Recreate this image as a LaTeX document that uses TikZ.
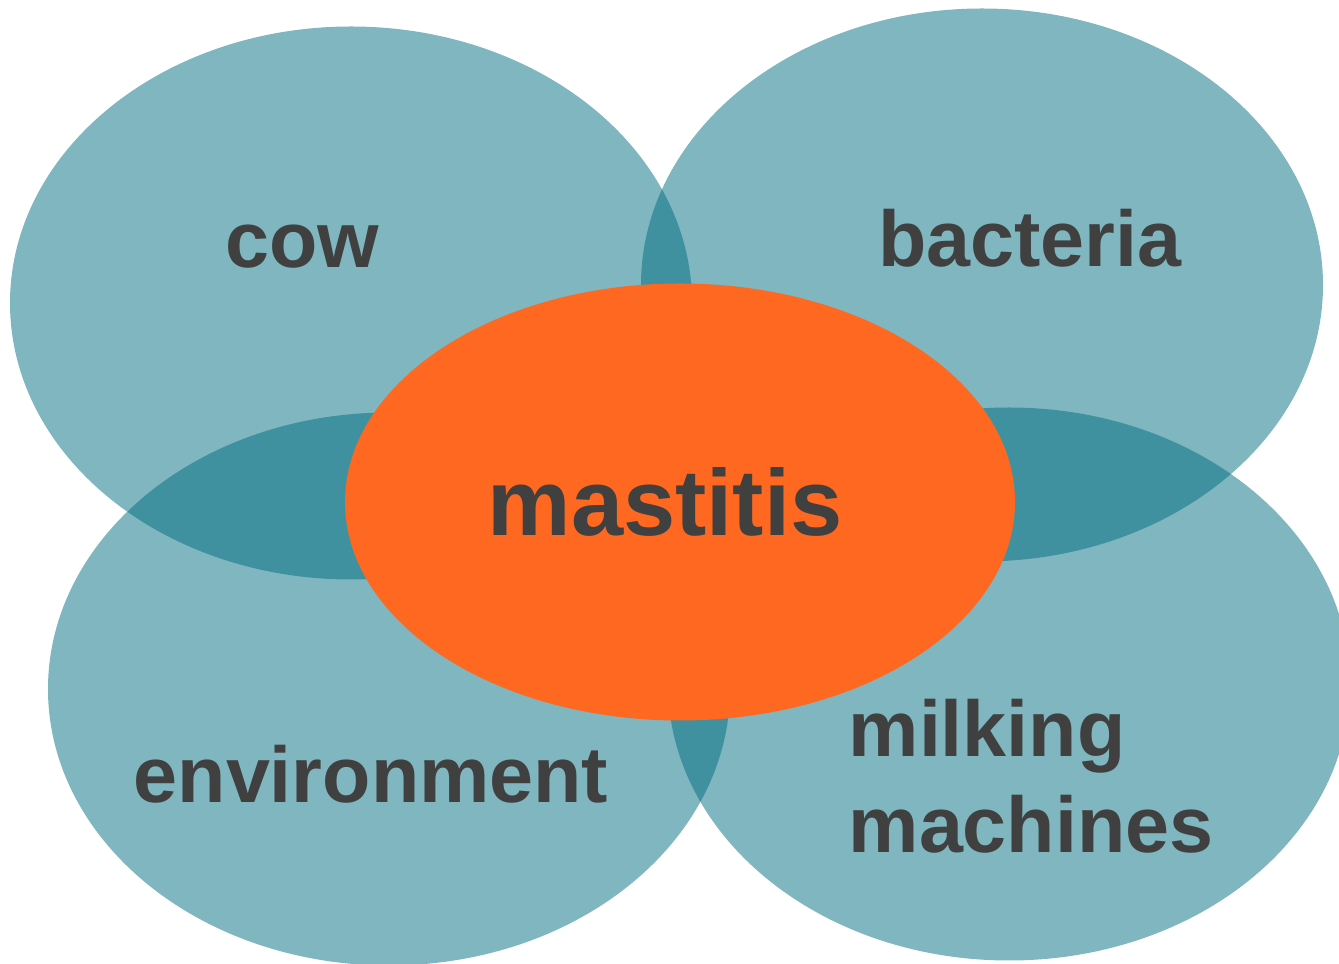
\documentclass[tikz,border=0pt]{standalone}
\usepackage{fontspec}
\setmainfont{Liberation Sans}
\usetikzlibrary{shapes.geometric,positioning}
\definecolor{factorteal}{RGB}{0,109,127}
\definecolor{mastorange}{RGB}{255,104,32}
\definecolor{labelgray}{RGB}{64,64,64}

\begin{document}
\begin{tikzpicture}[
  factor/.style={ellipse, fill=factorteal, fill opacity=0.5, inner sep=0pt,
    minimum width=6.82cm, minimum height=5.53cm},
  lbl/.style={anchor=base, inner sep=0pt, text=labelgray,
    font=\fontsize{22.5}{27}\selectfont\bfseries},
]
\useasboundingbox (0,0) rectangle (13.39,9.64);
\clip (0,0) rectangle (13.39,9.64);
% the four causes
\node[factor] (cow) at (3.51,6.61) {};
\node[factor] (bact) at (9.82,6.79) {};
\node[factor] (env) at (3.89,2.75) {};
\node[factor] (milk) at (10.09,2.80) {};
% the disease in the middle
\node[ellipse, fill=mastorange, inner sep=0pt, minimum width=6.70cm,
  minimum height=4.37cm] (mast) at (6.80,4.62) {};
% labels
\node[lbl] (cowlbl) at (3.02,6.96) {cow};
\node[lbl] (bactlbl) at (10.30,6.97) {bacteria};
\node[lbl] (envlbl) at (3.71,1.61) {environment};
\node[lbl, anchor=base west] (milklbl) at (8.48,2.07) {milking};
\node[lbl, anchor=base west] (machlbl) at ([yshift=-0.96cm]milklbl.base west) {machines};
\node[lbl, font=\fontsize{26.7}{32}\selectfont\bfseries] (mastlbl) at (6.65,4.28) {mastitis};
\end{tikzpicture}
\end{document}
